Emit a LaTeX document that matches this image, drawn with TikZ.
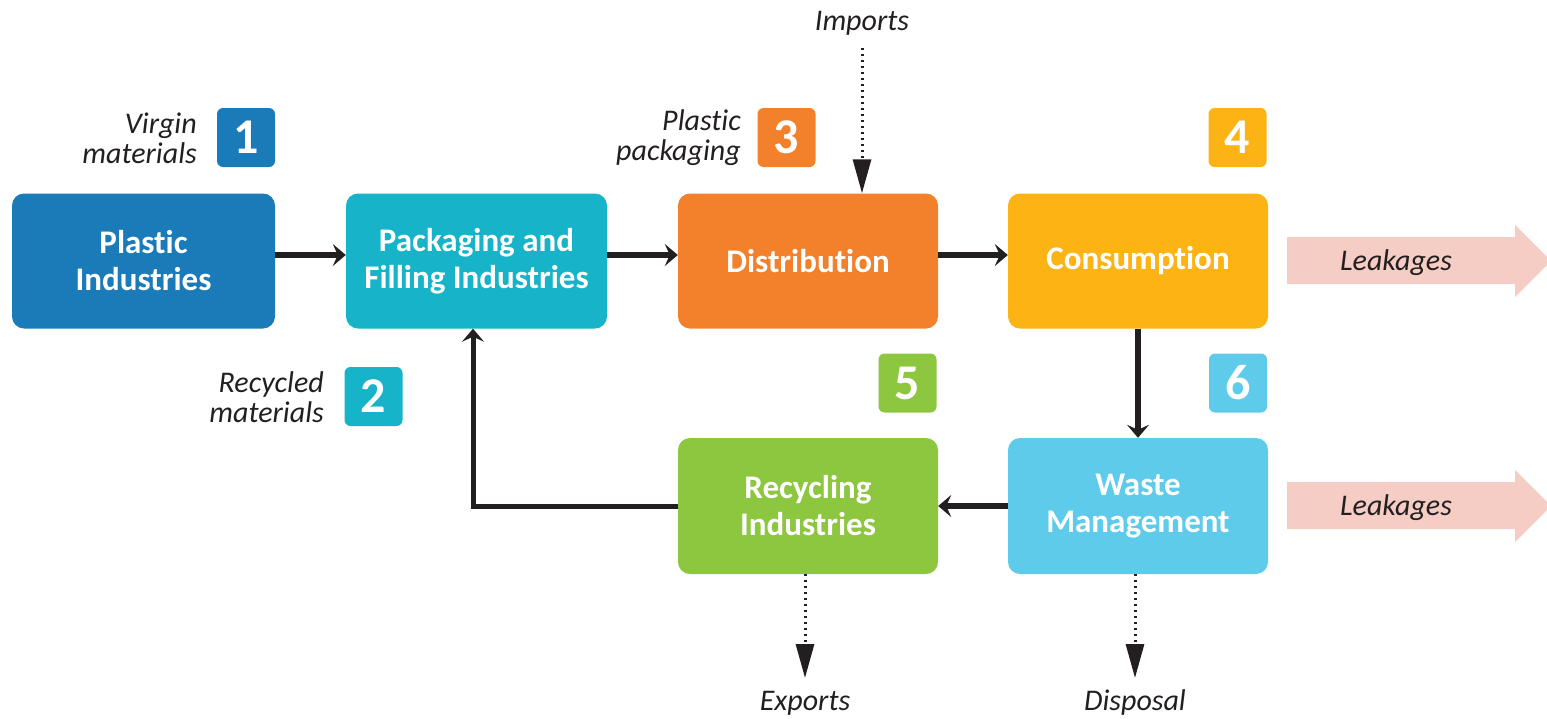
\documentclass[tikz,border=0pt]{standalone}
\usepackage{fontspec}
\setmainfont{Carlito}[RawFeature={-liga;-clig;-dlig;-calt}]
\usetikzlibrary{arrows.meta}

\definecolor{cPlastic}{HTML}{1B7BB8}
\definecolor{cPack}{HTML}{16B3C9}
\definecolor{cDist}{HTML}{F3812C}
\definecolor{cCons}{HTML}{FCB415}
\definecolor{cRecy}{HTML}{8DC63F}
\definecolor{cWaste}{HTML}{5FCBEA}
\definecolor{cLeak}{HTML}{F5CDC4}
\definecolor{cInk}{HTML}{231F20}

\tikzset{
  stage/.style={rectangle, rounded corners=12pt, minimum width=260pt,
    minimum height=135pt, inner sep=0pt, text=white, align=center,
    font=\fontsize{33}{37}\selectfont\bfseries},
  badge/.style={rectangle, rounded corners=6pt, minimum width=58pt,
    minimum height=59pt, inner sep=0pt, text=white,
    font=\fontsize{50}{50}\selectfont\bfseries},
  note/.style={inner sep=0pt, text=cInk, align=right,
    font=\fontsize{30}{30}\selectfont\itshape},
  flow/.style={draw=cInk, line width=5.5pt,
    -{Stealth[length=13pt, width=22pt, inset=5pt]}},
  trade/.style={draw=cInk, line width=3pt, dash pattern=on 2pt off 4pt,
    -{Triangle[length=34pt, width=18pt]}},
  leak/.style={fill=cLeak, draw=none}
}

\begin{document}
\begin{tikzpicture}[x=1pt, y=-1pt]
  \useasboundingbox (0,0) rectangle (1547,718);

  % main stages
  \node[stage, fill=cPlastic, minimum width=263pt] (plastic) at (143.5,261) {Plastic\\Industries};
  \node[stage, fill=cPack, minimum width=261pt] (pack) at (476.5,261) {Packaging and\\Filling Industries};
  \node[stage, fill=cDist] (dist) at (808,261) {Distribution};
  \node[stage, fill=cCons] (cons) at (1138,261) {Consumption};
  \node[stage, fill=cRecy, minimum height=136pt] (recy) at (808,506) {Recycling\\Industries};
  \node[stage, fill=cWaste, minimum height=136pt] (waste) at (1138,506) {Waste\\Management};

  % numbered badges
  \node[badge, fill=cPlastic] (n1) at (246,137.5) {1};
  \node[badge, fill=cPack] (n2) at (373.5,396.5) {2};
  \node[badge, fill=cDist] (n3) at (786.5,137.5) {3};
  \node[badge, fill=cCons] (n4) at (1237.5,137.5) {4};
  \node[badge, fill=cRecy] (n5) at (907.5,383) {5};
  \node[badge, fill=cWaste] (n6) at (1238,383) {6};

  % side notes (anchored on the baseline of their last line)
  \node[note, anchor=base east] (virgin) at (197,163) {Virgin\\materials};
  \node[note, anchor=base east] (recycled) at (324,422) {Recycled\\materials};
  \node[note, anchor=base east] (packaging) at (741,160) {Plastic\\packaging};

  % material flows
  \draw[flow] ([yshift=6pt]plastic.east) -- ([yshift=6pt]pack.west);
  \draw[flow] ([yshift=6pt]pack.east) -- ([yshift=6pt]dist.west);
  \draw[flow] ([yshift=6pt]dist.east) -- ([yshift=6pt]cons.west);
  \draw[flow] (cons.south) -- (waste.north);
  \draw[flow] (waste.west) -- (recy.east);
  \draw[flow, line width=5pt] (recy.west) -| ([xshift=-3.5pt]pack.south);

  % trade and disposal
  \node[note, anchor=base] (imports) at (862,30) {Imports};
  \coordinate (impstart) at (862,48);
  \draw[trade] (impstart) -- (impstart |- dist.north);

  \node[note, anchor=base] (exports) at (805,710) {Exports};
  \coordinate (expend) at (805,678);
  \draw[trade] (recy.south -| expend) -- (expend);

  \node[note, anchor=base] (disposal) at (1135,710) {Disposal};
  \coordinate (disend) at (1135,678);
  \draw[trade] (waste.south -| disend) -- (disend);

  % leakages
  \fill[leak] (1287,237) -- (1515,237) -- (1515,225) -- (1551,261)
    -- (1515,297) -- (1515,284) -- (1287,284) -- cycle;
  \node[note, anchor=base] (leak1) at (1396,270) {Leakages};
  \fill[leak] (1287,482) -- (1515,482) -- (1515,470) -- (1551,506)
    -- (1515,542) -- (1515,529) -- (1287,529) -- cycle;
  \node[note, anchor=base] (leak2) at (1396,515) {Leakages};
\end{tikzpicture}
\end{document}
